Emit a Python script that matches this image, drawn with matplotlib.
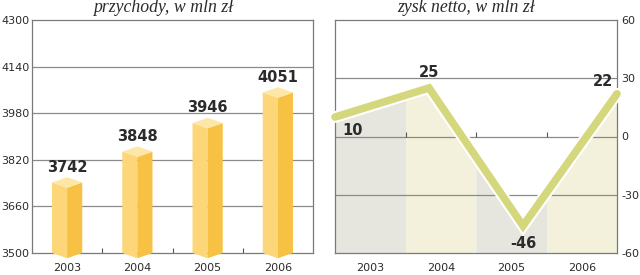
import numpy as np
import matplotlib
matplotlib.use("Agg")
import matplotlib.pyplot as plt
from matplotlib.patches import Polygon
import matplotlib.patheffects as pe

years = ["2003", "2004", "2005", "2006"]
revenue = [3742, 3848, 3946, 4051]
profit = [10, 25, -46, 22]
rev_ticks = [3500, 3660, 3820, 3980, 4140, 4300]
prof_ticks = [-60, -30, 0, 30, 60]
title_left = "przychody, w mln zł"
title_right = "zysk netto, w mln zł"

W, H = 640, 275
fig = plt.figure(figsize=(6.4, 2.75), dpi=100)
fig.patch.set_facecolor("white")

grid_c = "#8a8a8a"
spine_c = "#7a7a7a"
txt_c = "#2b2b2b"
tick_fs = 8
val_fs = 10.5

# ---------- left panel ----------
axL = fig.add_axes([32 / W, 1 - 253 / H, (313 - 32) / W, (253 - 20) / H])
axL.set_xlim(-0.5, 3.5)
axL.set_ylim(rev_ticks[0], rev_ticks[-1])
axL.set_yticks(rev_ticks)
axL.set_yticklabels([str(t) for t in rev_ticks])
axL.set_xticks(range(len(years)))
axL.set_xticklabels(years)
axL.set_xticks([0.5, 1.5, 2.5], minor=True)
axL.tick_params(axis="both", which="major", length=0, labelsize=tick_fs, colors=txt_c)
axL.tick_params(axis="x", which="major", pad=7.5)
axL.tick_params(axis="y", which="major", pad=2)
axL.tick_params(axis="x", which="minor", direction="in", length=3.5, color="#555555", width=0.8)
for t in rev_ticks[1:-1]:
    axL.axhline(t, color=grid_c, lw=0.9, zorder=1)
for s in axL.spines.values():
    s.set_color(spine_c)
    s.set_linewidth(0.9)

hw = 0.215
d = 18
base = rev_ticks[0]
for i, v in enumerate(revenue):
    xl, xc, xr = i - hw, i, i + hw
    left = Polygon([(xl, v), (xc, v - d), (xc, base - d), (xl, base)],
                   closed=True, facecolor="#fcd678", edgecolor="none", zorder=3, clip_on=False)
    right = Polygon([(xc, v - d), (xr, v), (xr, base), (xc, base - d)],
                    closed=True, facecolor="#f7c243", edgecolor="none", zorder=3, clip_on=False)
    cap = Polygon([(xl, v), (xc, v + d), (xr, v), (xc, v - d)],
                  closed=True, facecolor="#fde6a6", edgecolor="none", zorder=4, clip_on=False)
    for p in (left, right, cap):
        axL.add_patch(p)
    axL.annotate(str(v), (i, v), xytext=(0, 11), textcoords="offset points",
                 ha="center", va="center", fontsize=val_fs, fontweight="bold",
                 color=txt_c, zorder=5)

fig.text(163 / W, 1 - 12.5 / H, title_left, ha="center", va="baseline",
         fontsize=12.8, style="italic", family="Liberation Serif", color=txt_c)

# ---------- right panel ----------
axR = fig.add_axes([335 / W, 1 - 253 / H, (617 - 335) / W, (253 - 20) / H])
axR.set_xlim(-0.5, 3.5)
axR.set_ylim(prof_ticks[0], prof_ticks[-1])
axR.yaxis.tick_right()
axR.set_yticks(prof_ticks)
axR.set_yticklabels([str(t) for t in prof_ticks])
for lab in axR.get_yticklabels():
    lab.set_horizontalalignment("left")
axR.set_xticks(range(len(years)))
axR.set_xticklabels(years)
axR.tick_params(axis="both", which="major", length=0, labelsize=tick_fs, colors=txt_c)
axR.tick_params(axis="x", which="major", pad=7.5)
axR.tick_params(axis="y", which="major", pad=3)
for s in axR.spines.values():
    s.set_color(spine_c)
    s.set_linewidth(0.9)

# line points spread evenly across the full width
n = len(profit)
lx = np.array([-0.5 + i * 4.0 / (n - 1) for i in range(n)])
ly = np.array(profit, dtype=float)

band_cols = ["#e6e6df", "#f3f1dc", "#e6e6df", "#f3f1dc"]
for i in range(len(years)):
    a, b = i - 0.5, i + 0.5
    xs = [a] + [x for x in lx if a < x < b] + [b]
    xs = np.array(xs)
    ys = np.interp(xs, lx, ly)
    axR.fill_between(xs, ys, prof_ticks[0], color=band_cols[i], lw=0, zorder=1)

for t in prof_ticks[1:-1]:
    axR.axhline(t, color=grid_c, lw=0.9, zorder=2)
axR.vlines([0.5, 1.5, 2.5], 0, 2.2, color="#555555", lw=0.8, zorder=2)

axR.plot(lx, ly, color="#d5d77c", lw=5.5, solid_capstyle="round", solid_joinstyle="miter",
         zorder=4, clip_on=False,
         path_effects=[pe.Stroke(linewidth=8.5, foreground="white"), pe.Normal()])

offsets = [(13, -10), (0, 11), (0, -13), (-10, 9)]
for x, y, off in zip(lx, ly, offsets):
    axR.annotate(str(int(y)), (x, y), xytext=off, textcoords="offset points",
                 ha="center", va="center", fontsize=val_fs, fontweight="bold",
                 color=txt_c, zorder=6)

fig.text(466 / W, 1 - 12.5 / H, title_right, ha="center", va="baseline",
         fontsize=12.8, style="italic", family="Liberation Serif", color=txt_c)

fig.savefig("out.png", dpi=100, facecolor="white")
